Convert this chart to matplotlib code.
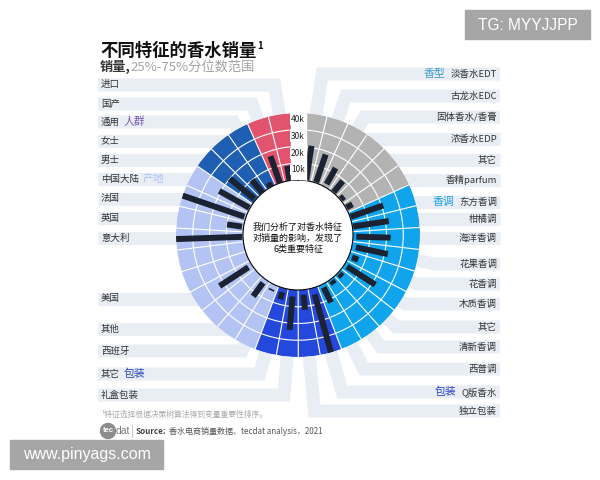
import numpy as np
import matplotlib
matplotlib.use('Agg')
import matplotlib.pyplot as plt
from matplotlib.patches import Circle, Rectangle

FONT = ['Noto Sans CJK SC', 'DejaVu Sans']
plt.rcParams['font.family'] = FONT

nan = np.nan
# ---------------- data ----------------
group_names = ['香型', '香调', '包装', '产地', '人群', '来源']
group_sizes = [6, 9, 4, 10, 3, 2]
group_colors = ['#b3b3b3', '#10a4ec', '#2447dc', '#b3c3f3', '#1f5fb3', '#e2546e']
group_text_colors = ['#3d98cf', '#1a9de0', '#2a44c0', '#b3c3f3', '#7b55b9', '#e2546e']

categories = ['淡香水EDT', '古龙水EDC', '固体香水/香膏', '浓香水EDP', '其它', '香精parfum',
              '东方香调', '柑橘调', '海洋香调', '花果香调', '花香调', '木质香调', '其它', '清新香调', '西普调',
              'Q版香水', '独立包装', '礼盒包装', '其它',
              '西班牙', '其他', '', '美国', '', '', '意大利', '英国', '法国', '中国大陆',
              '男士', '女士', '通用',
              '国产', '进口']
q25_k = [0.5, 0.5, 2, 0.5, 0.5, 0.5,
         0.5, 0.5, 2, 2.5, 2, 2, 1, 1, 2,
         4, 3, 4, 2.5,
         3, 2.5, nan, 2.5, nan, nan, 0.5, 1, 1, 0.5,
         1, 0, 0,
         0, 0]
q75_k = [21, 18, 13, 9, 3, 4.5,
         21, 22, 22.5, 22, 6, 22, 3.5, 3.5, 12,
         40, 12, 24, 7,
         4, 12.5, nan, 23, nan, nan, 40, 10, 40, 21,
         20, 10, 3,
         17, 9]
r_ticks = [10000, 20000, 30000, 40000]
r_tick_labels = ['10k', '20k', '30k', '40k']

# ---------------- layout ----------------
label_y = [74, 96, 117, 139, 160, 180,
           202, 219, 238, 264, 284, 304, 327, 347, 369,
           392, 411, 395, 374,
           351, 329, None, 299, None, None, 238, 218, 199, 179,
           160, 141, 122,
           104, 85]
right_side = [k <= 16 for k in range(len(categories))]
group_label_at = {0: 0, 6: 1, 15: 2, 18: 2, 28: 3, 31: 4}

n = len(categories)
slot_group = np.repeat(np.arange(len(group_sizes)), group_sizes)
start_deg, w_deg = 3.4, 10.38
theta = np.deg2rad(start_deg + w_deg * (np.arange(n) + 0.5))
w = np.deg2rad(w_deg)
q25 = np.array(q25_k) * 1000
q75 = np.array(q75_k) * 1000

fig = plt.figure(figsize=(6, 4.8), dpi=100)
bg = fig.add_axes([0, 0, 1, 1])
bg.set_xlim(0, 600); bg.set_ylim(480, 0); bg.axis('off')

CX, CY, RO, RI = 298, 235, 122, 55
ax = fig.add_axes([(CX - RO) / 600, (480 - CY - RO) / 480, 2 * RO / 600, 2 * RO / 480],
                  projection='polar')
ax.set_theta_zero_location('N'); ax.set_theta_direction(-1)
ax.set_ylim(0, 40000)
ax.set_rorigin(-40000 * RI / (RO - RI))
ax.set_facecolor('none')
ax.set_xticks([]); ax.set_yticks([])
for s in ax.spines.values():
    s.set_visible(False)
ax.grid(False)
ax.set_zorder(3)

# ring segments
ax.bar(theta, 40000, width=w, bottom=0, color=[group_colors[g] for g in slot_group],
       linewidth=0, align='center', zorder=1)
# grid
edges = np.deg2rad(start_deg + w_deg * np.arange(n + 1))
for b in edges[1:-1]:
    ax.plot([b, b], [0, 40000], color='white', lw=0.8, zorder=2)
th = np.linspace(edges[0], edges[-1], 400)
for r in r_ticks[:-1]:
    ax.plot(th, np.full_like(th, r), color='white', lw=0.8, zorder=2)
# IQR bars
for k in range(n):
    if np.isnan(q25[k]):
        continue
    ax.plot([theta[k], theta[k]], [q25[k], q75[k]], color='#1b2232', lw=4.3,
            solid_capstyle='butt', zorder=5)
# constant-width gap at the top
ax.add_patch(Rectangle((CX - 7.5, CY - RO - 2), 15, RO - RI + 4, transform=bg.transData,
                       color='white', zorder=6))
for r, lab in zip(r_ticks, r_tick_labels):
    ax.text(0, r - 4000, lab, ha='center', va='center', fontsize=6, color='#222', zorder=7,
            bbox=dict(fc='white', ec='none', pad=0.6))

# connectors
inv = bg.transData.inverted()
cx, cy = inv.transform(ax.transAxes.transform((0.5, 0.5)))
band_col = '#e8eef4'
for k in range(n):
    if not categories[k]:
        continue
    ly = label_y[k]
    xend = 500 if right_side[k] else 98
    px, py = inv.transform(ax.transData.transform((theta[k], 40000)))
    dx, dy = px - cx, py - cy
    rr = np.hypot(dx, dy)
    ux, uy = dx / rr, dy / rr
    if abs(uy) > 1e-6 and (ly - cy) / uy > rr + 3:
        t = (ly - cy) / uy
        xs = [cx + ux * (rr - 5), cx + ux * t, xend]
        ys = [cy + uy * (rr - 5), ly, ly]
    else:
        xs = [cx, xend]
        ys = [ly, ly]
    bg.plot(xs, ys, color=band_col, lw=9.4, solid_capstyle='butt', solid_joinstyle='miter', zorder=1)
bg.add_patch(Circle((cx, cy), RI + 1, color='white', zorder=2))

# labels
fig.canvas.draw()
renderer = fig.canvas.get_renderer()
for k in range(n):
    if not categories[k]:
        continue
    ly = label_y[k]
    if right_side[k]:
        t = bg.text(497, ly, categories[k], ha='right', va='center', fontsize=6.8, color='#333', zorder=4)
        if k in group_label_at:
            g = group_label_at[k]
            bb = t.get_window_extent(renderer)
            x0 = inv.transform((bb.x0, 0))[0]
            bg.text(x0 - 5, ly, group_names[g], ha='right', va='center', fontsize=7.8,
                    color=group_text_colors[g], zorder=4)
    else:
        t = bg.text(101, ly, categories[k], ha='left', va='center', fontsize=6.8, color='#333', zorder=4)
        if k in group_label_at:
            g = group_label_at[k]
            bb = t.get_window_extent(renderer)
            x1 = inv.transform((bb.x1, 0))[0]
            bg.text(x1 + 4, ly, group_names[g], ha='left', va='center', fontsize=7.8,
                    color=group_text_colors[g], zorder=4)

# center text
bg.text(cx, cy + 3, '我们分析了对香水特征\n对销量的影响，发现了\n6类重要特征', ha='center', va='center',
        fontsize=6.5, linespacing=1.25, color='#111', zorder=4)

# titles
tt = bg.text(100, 51, '不同特征的香水销量', fontsize=12.5, fontweight='bold', va='center', color='#111')
bb = tt.get_window_extent(renderer)
bg.text(inv.transform((bb.x1, 0))[0] + 1, 46, '1', fontsize=7, fontweight='bold', va='center', color='#111')
st = bg.text(100, 67, '销量,', fontsize=9.5, fontweight='bold', va='center', color='#333')
bb = st.get_window_extent(renderer)
bg.text(inv.transform((bb.x1, 0))[0], 67, '25%-75%分位数范围', fontsize=9.5, va='center', color='#a3a3a3')

# footnote / source
bg.text(101, 415, '¹特征选择根据决策树算法得到变量重要性排序。', fontsize=5.6, va='center', color='#aaaaaa')
bg.add_patch(Circle((108, 431), 7.5, color='#8c8c8c'))
bg.text(108, 431, 'tec', fontsize=5.5, fontweight='bold', color='white', ha='center', va='center',
        family=['Liberation Sans', 'DejaVu Sans'])
bg.text(115.5, 431, 'dat', fontsize=7.5, color='#7a7a7a', ha='left', va='center',
        family=['Liberation Sans', 'DejaVu Sans'])
bg.plot([132, 132], [425, 437], color='#bbbbbb', lw=0.6)
so = bg.text(136, 431, 'Source:', fontsize=5.8, fontweight='bold', color='#444', va='center')
bb = so.get_window_extent(renderer)
bg.text(inv.transform((bb.x1, 0))[0] + 2, 431, '香水电商销量数据、tecdat analysis，2021', fontsize=5.8,
        color='#555', va='center')

# watermarks
bg.add_patch(Rectangle((465, 10), 125, 29, color='#a6a6a6', zorder=5))
bg.text(527.5, 25, 'TG: MYYJJPP', color='white', fontsize=11.2, ha='center', va='center',
        family=['Liberation Sans', 'DejaVu Sans'], zorder=6)
bg.add_patch(Rectangle((10, 440), 153, 29, color='#a6a6a6', zorder=5))
bg.text(86.5, 455, 'www.pinyags.com', color='white', fontsize=11.5, ha='center', va='center',
        family=['Liberation Sans', 'DejaVu Sans'], zorder=6)

fig.savefig('out.png', dpi=100)
